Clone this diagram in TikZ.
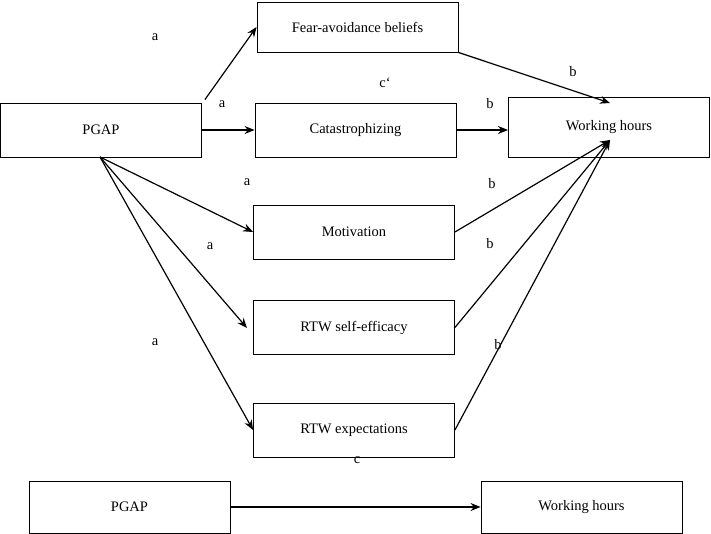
\documentclass[tikz,border=0pt]{standalone}
\usepackage{fontspec}
\setmainfont{Liberation Serif}
\usetikzlibrary{arrows.meta}
\begin{document}
\begin{tikzpicture}[x=1pt, y=-1pt, font=\fontsize{14.5}{17}\selectfont, line width=0.9pt,
  varbox/.style={draw, minimum width=201pt, minimum height=54pt, inner sep=0},
  path/.style={-{Stealth[length=10pt, width=8pt]}, line width=1.2pt}]
\useasboundingbox (0,0) rectangle (711,534);

% mediators
\node [varbox, minimum height=50pt] (fear) at (357.5,27) {Fear-avoidance beliefs};
\node [varbox] (cat) at (355.5,130) {Catastrophizing};
\node [varbox] (mot) at (354,232) {Motivation};
\node [varbox] (se) at (354,327.5) {RTW self-efficacy};
\node [varbox] (exp) at (354,430) {RTW expectations};

\node [varbox] (pgap) at (101,130) {PGAP};
\node [varbox, minimum height=60pt] (wh) at (609,127) {Working hours};

% total effect
\node [varbox, minimum height=52pt] (pgap2) at (129.5,507) {PGAP};
\node [varbox, minimum height=52pt] (wh2) at (581.5,507) {Working hours};

\coordinate (wt) at (610,103);
\coordinate (wb) at (610,140);

\draw [path] (pgap.north east) ++(3,-3) -- (fear.west);
\draw [path] (pgap.east) -- (cat.west);
\draw [path] (100,157) -- (mot.west);
\draw [path] (100,157) -- (247,328);
\draw [path] (100,157) -- (exp.west);

\draw [path] (fear.south east) -- (wt);
\draw [path] (cat.east) -- (wh.west |- cat.east);
\draw [path] (mot.east) -- (wb);
\draw [path] (se.east) -- (wb);
\draw [path] (exp.east) -- (wb);

\draw [path] (pgap2.east) -- (wh2.west);

% labels
\node (la1) at (155,37) {a};
\node (lc) at (385,83) {c‘};
\node (la2) at (222,104) {a};
\node (lb1) at (573,72) {b};
\node (lb2) at (490,104) {b};
\node (la3) at (247,182) {a};
\node (lb3) at (492,184) {b};
\node (la4) at (210,246) {a};
\node (lb4) at (490,244) {b};
\node (la5) at (155,342) {a};
\node (lb5) at (498,345) {b};
\node (lc2) at (357,460) {c};
\end{tikzpicture}
\end{document}
